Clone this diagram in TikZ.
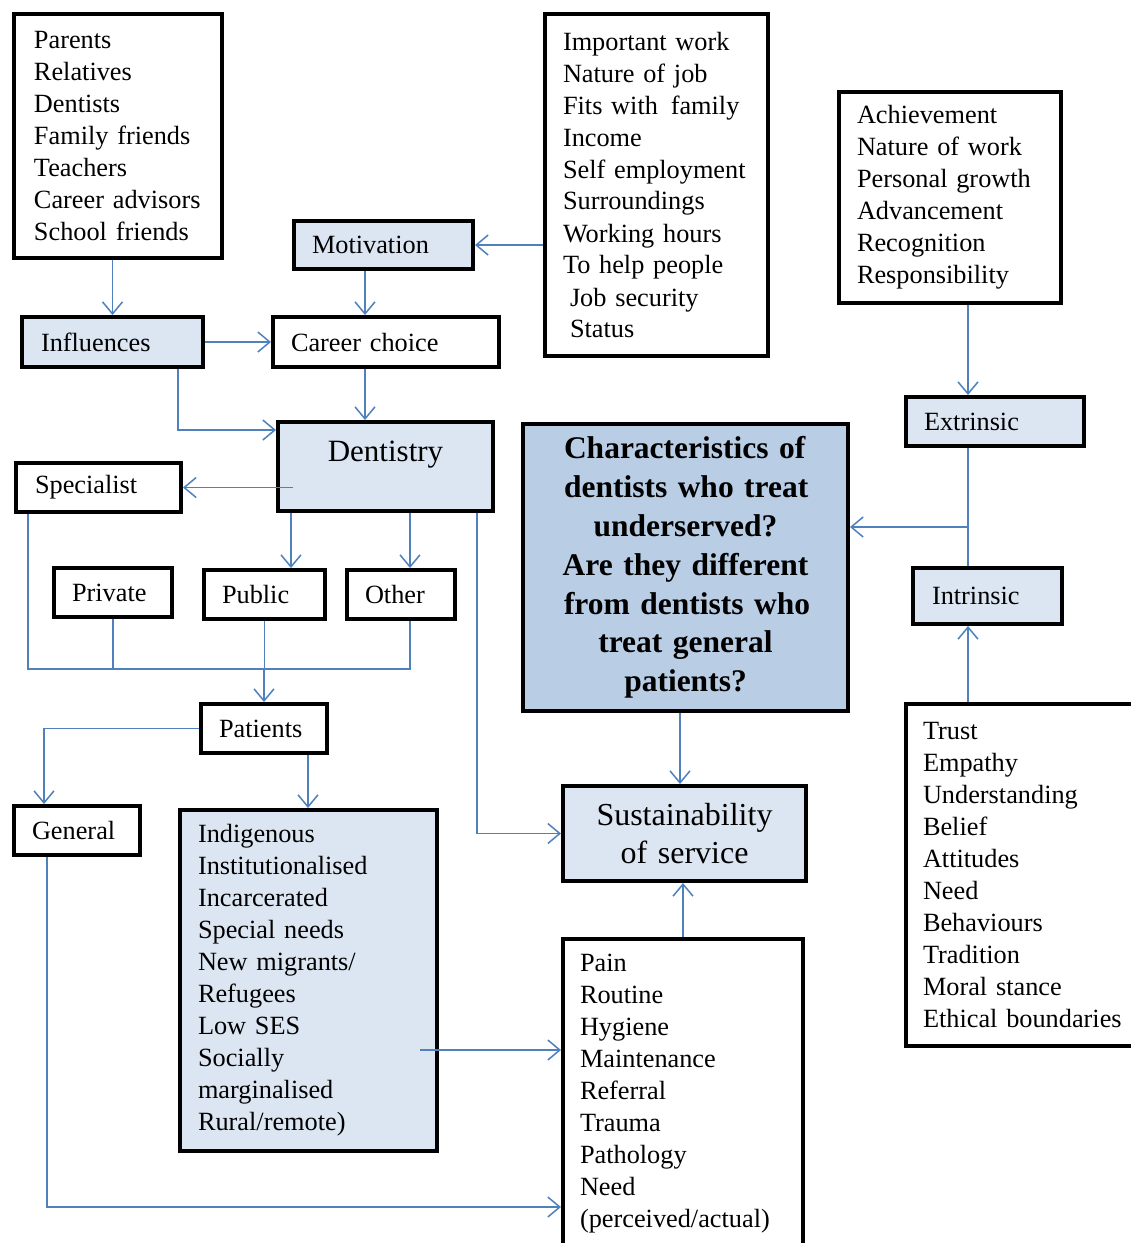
\documentclass[tikz,border=0pt]{standalone}
\usepackage{fontspec}
\setmainfont{Liberation Serif}
\usetikzlibrary{arrows.meta}
\definecolor{paleblue}{RGB}{220,230,242}
\definecolor{midblue}{RGB}{185,205,229}
\definecolor{linkblue}{RGB}{79,129,189}
\tikzset{
  box/.style={draw=black, line width=4pt, anchor=north west, inner ysep=0pt,
    inner xsep=18pt, align=left, text=black,
    font=\fontsize{26.3}{32}\selectfont,
    execute at begin node={\hyphenpenalty=10000\exhyphenpenalty=10000}},
  shaded/.style={box, fill=paleblue},
  conn/.style={draw=linkblue, line width=1.5pt},
  arr/.style={conn, -{Straight Barb[length=12pt,width=20pt]}},
}
\begin{document}
\begin{tikzpicture}[x=1pt,y=-1pt]
\useasboundingbox (0,0) rectangle (1131,1243);
\fill[white] (0,0) rectangle (1131,1243);

% lists of factors
\node[box, inner xsep=20pt, text width=168pt, minimum height=244pt] (inflist) at (12,12)
  {Parents\\Relatives\\Dentists\\Family~friends\\Teachers\\Career~advisors\\School~friends};
\node[box, text width=187pt, minimum height=342pt] (motlist) at (543,12)
  {Important~work\\Nature~of~job\\Fits~with\hspace{4pt}~family\\Income\\Self~employment\\Surroundings\\Working~hours\\To~help~people\\\hspace*{7pt}Job~security\\\hspace*{7pt}Status};
\node[box, text width=186pt, minimum height=211pt] (extlist) at (837,90)
  {Achievement\\Nature~of~work\\Personal~growth\\Advancement\\Recognition\\Responsibility};
\node[box, inner xsep=17pt, text width=200pt, minimum height=342pt] (intlist) at (904,702)
  {Trust\\Empathy\\Understanding\\Belief\\Attitudes\\Need\\Behaviours\\Tradition\\Moral~stance\\Ethical~boundaries};
\node[shaded, text width=221pt, minimum height=341pt] (groups) at (178,808)
  {Indigenous\\Institutionalised\\Incarcerated\\Special~needs\\New~migrants/\\Refugees\\Low~SES\\Socially\\marginalised\\Rural/remote)};
\node[box, inner xsep=17pt, text width=206pt, minimum height=309pt] (pain) at (561,937)
  {Pain\\Routine\\Hygiene\\Maintenance\\Referral\\Trauma\\Pathology\\Need\\(perceived/actual)};

% single labels
\node[shaded, text width=143pt, minimum height=48pt] (motiv) at (292,219) {Motivation};
\node[shaded, inner xsep=19pt, text width=143pt, minimum height=50pt] (infl) at (20,315) {Influences};
\node[box, text width=190pt, minimum height=50pt] (career) at (271,315) {Career~choice};
\node[shaded, inner xsep=0pt, minimum width=215pt, minimum height=89pt, align=center,
  font=\fontsize{31}{37}\selectfont, text height=22pt, text depth=33pt] (dent) at (276,420) {Dentistry};
\node[shaded, text width=142pt, minimum height=49pt] (extr) at (904,395) {Extrinsic};
\node[box, fill=midblue, text width=289pt, minimum height=287pt, align=center,
  font=\fontsize{31.5}{38.8}\selectfont\bfseries] (quest) at (521,422)
  {\makebox[243pt][s]{Characteristics of}\\\makebox[243pt][s]{dentists who treat}\\underserved?\\Are~they~different\\\makebox[243pt][s]{from dentists who}\\treat~general\\patients?};
\node[box, inner xsep=19pt, text width=127pt, minimum height=49pt] (spec) at (14,461) {Specialist};
\node[box, text width=82pt, minimum height=49pt] (priv) at (52,566) {Private};
\node[box, text width=85pt, minimum height=49pt] (pub) at (202,568) {Public};
\node[box, text width=72pt, minimum height=49pt] (other) at (345,568) {Other};
\node[shaded, inner xsep=19pt, text width=111pt, minimum height=56pt] (intr) at (911,566) {Intrinsic};
\node[box, text width=90pt, minimum height=49pt] (pat) at (199,702) {Patients};
\node[box, text width=90pt, minimum height=49pt] (gen) at (12,804) {General};
\node[shaded, text width=207pt, minimum height=95pt, align=center,
  font=\fontsize{32}{38}\selectfont] (sust) at (561,784) {Sustainability\\of~service};

% connectors
\draw[arr] (inflist.south -| infl.north) -- (infl.north);
\draw[arr] (motlist.west |- motiv.east) -- (motiv.east);
\draw[arr] (motiv.south -| 365,0) -- (career.north -| 365,0);
\draw[arr] (infl.east) -- (career.west);
\draw[arr] (career.south -| 365,0) -- (dent.north -| 365,0);
\draw[arr] (infl.south -| 178,0) |- (dent.west |- 0,430);
\draw[arr] (dent.west |- spec.east) ++(17,0) -- (spec.east);
\draw[arr] (dent.south -| 291,0) -- (pub.north -| 291,0);
\draw[arr] (dent.south -| 410,0) -- (other.north -| 410,0);
\draw[arr] (dent.south -| 477,0) |- (sust.west);

\coordinate (mL) at (28,669);
\coordinate (mR) at (410,669);
\draw[conn] (spec.south -| mL) -- (mL) -- (mR) -- (other.south -| mR);
\draw[conn] (priv.south) -- (priv.south |- mL);
\draw[conn] (pub.south) -- (pub.south |- mL);
\draw[arr] (pat.north |- mL) -- (pat.north);

\draw[arr] (pat.west) -| (gen.north -| 44,0);
\draw[arr] (pat.south -| 308,0) -- (groups.north -| 308,0);
\draw[arr] (gen.south -| 47,0) |- (pain.west |- 0,1207);
\coordinate (gOut) at (420,1050);
\draw[arr] (gOut) -- (pain.west |- gOut);

\draw[arr] (quest.south -| 680,0) -- (sust.north -| 680,0);
\draw[arr] (pain.north -| 683,0) -- (sust.south -| 683,0);

\draw[arr] (extlist.south -| 968,0) -- (extr.north -| 968,0);
\draw[conn] (extr.south -| 968,0) -- (intr.north -| 968,0);
\coordinate (jn) at (968,527);
\draw[arr] (jn) -- (quest.east |- jn);
\draw[arr] (intlist.north -| 968,0) -- (intr.south -| 968,0);
\end{tikzpicture}
\end{document}
